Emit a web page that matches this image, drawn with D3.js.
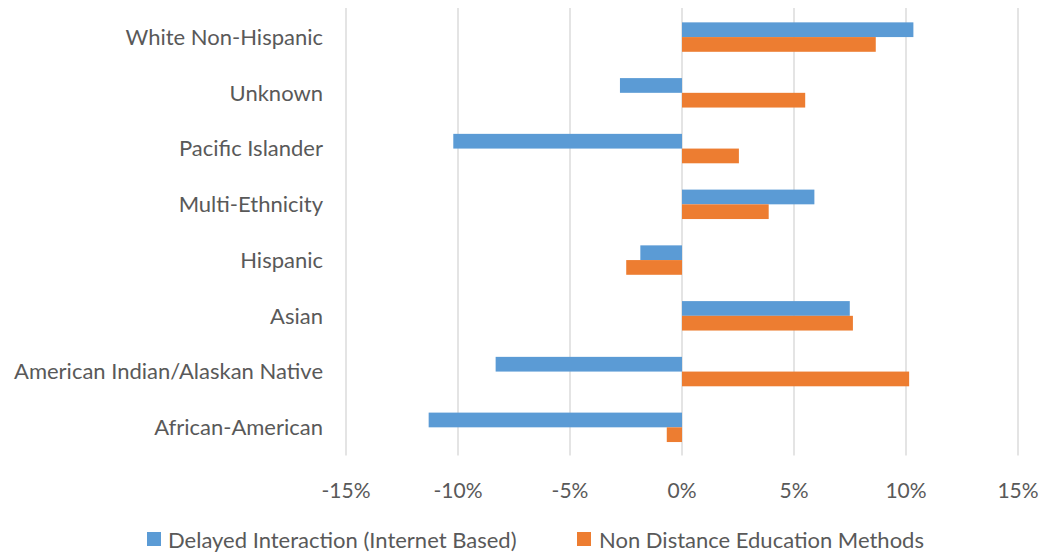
<!DOCTYPE html>
<html>
<head>
<meta charset="utf-8">
<script src="https://cdn.jsdelivr.net/npm/d3@7/dist/d3.min.js"></script>
<style>
  html, body { margin: 0; padding: 0; background: #fff; }
  svg { display: block; }
  text { font-family: Lato, "Open Sans", sans-serif; fill: #595959; }
</style>
</head>
<body>
<svg id="chart" width="1043" height="552"></svg>
<script>
const categories = [
  "White Non-Hispanic",
  "Unknown",
  "Pacific Islander",
  "Multi-Ethnicity",
  "Hispanic",
  "Asian",
  "American Indian/Alaskan Native",
  "African-American"
];
const seriesNames = ["Delayed Interaction (Internet Based)", "Non Distance Education Methods"];
const delayedInteraction = [10.33, -2.77, -10.21, 5.91, -1.86, 7.49, -8.32, -11.31];
const nonDistance = [8.65, 5.50, 2.54, 3.87, -2.49, 7.63, 10.14, -0.68];
const tickValues = [-15, -10, -5, 0, 5, 10, 15];
const colors = ["#5B9BD5", "#ED7D31"];

const svg = d3.select("#chart");

const x = d3.scaleLinear().domain([-15, 15]).range([346, 1018]);
const y = d3.scaleBand().domain(categories).range([9.2, 455.2]).paddingInner(0.472).paddingOuter(0.236);
const ySub = d3.scaleBand().domain([0, 1]).range([0, y.bandwidth()]);

// gridlines
svg.append("g").selectAll("line").data(tickValues).join("line")
  .attr("x1", d => x(d)).attr("x2", d => x(d))
  .attr("y1", 8).attr("y2", 455.5)
  .attr("stroke", "#D9D9D9").attr("stroke-width", 1.4);

// bars
const series = [delayedInteraction, nonDistance];
series.forEach((vals, si) => {
  svg.append("g").selectAll("rect").data(categories).join("rect")
    .attr("x", (d, i) => x(Math.min(0, vals[i])))
    .attr("width", (d, i) => Math.abs(x(vals[i]) - x(0)))
    .attr("y", d => y(d) + ySub(si))
    .attr("height", ySub.bandwidth())
    .attr("fill", colors[si]);
});

// category labels
svg.append("g").selectAll("text").data(categories).join("text")
  .attr("x", 323)
  .attr("y", d => y(d) + y.bandwidth() / 2)
  .attr("dy", "0.36em")
  .attr("text-anchor", "end")
  .style("font-size", "22px")
  .text(d => d);

// x tick labels
svg.append("g").selectAll("text").data(tickValues).join("text")
  .attr("x", d => x(d))
  .attr("y", 498)
  .attr("text-anchor", "middle")
  .style("font-size", "21px")
  .text(d => d + "%");

// legend
const legendX = [147, 577];
const legendTextX = [168, 599];
seriesNames.forEach((name, i) => {
  svg.append("rect").attr("x", legendX[i]).attr("y", 532).attr("width", 14).attr("height", 14).attr("fill", colors[i]);
  svg.append("text").attr("x", legendTextX[i]).attr("y", 547.5).style("font-size", "22px").text(name);
});
</script>
</body>
</html>
